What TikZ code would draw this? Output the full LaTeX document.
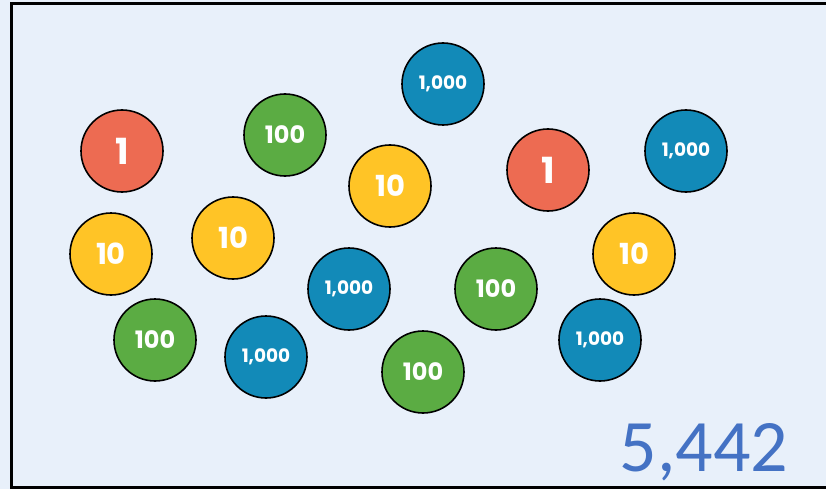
\documentclass[tikz,border=0pt]{standalone}
\usepackage{fontspec}
\setmainfont{Carlito}
\newfontfamily\coinfont{Poppins}[UprightFont=* Bold]
\usepackage{tikz}
\usetikzlibrary{positioning}
\definecolor{PaperBlue}{RGB}{232,240,250}
\definecolor{CoinRed}{RGB}{237,107,82}
\definecolor{CoinGreen}{RGB}{91,172,67}
\definecolor{CoinYellow}{RGB}{255,196,38}
\definecolor{CoinBlue}{RGB}{18,138,184}
\definecolor{TotalBlue}{RGB}{68,114,196}
\tikzset{
  coin/.style={circle,draw=black,line width=1.6pt,minimum size=82pt,inner sep=0pt,text=white},
  one/.style={coin,fill=CoinRed,font=\coinfont\fontsize{36}{36}\selectfont},
  ten/.style={coin,fill=CoinYellow,font=\coinfont\fontsize{29}{29}\selectfont},
  hundred/.style={coin,fill=CoinGreen,font=\coinfont\fontsize{24}{24}\selectfont},
  thousand/.style={coin,fill=CoinBlue,font=\coinfont\fontsize{18.5}{18.5}\selectfont}
}

\begin{document}
\begin{tikzpicture}[x=1pt,y=-1pt]
    \useasboundingbox (0,0) rectangle (826,489);
    \fill[PaperBlue] (0,0) rectangle (826,489);
    \begin{scope}
      \clip (0,0) rectangle (826,489);
      \draw[black,line width=3pt] (11.5,3.5) rectangle (840,487.5);
    \end{scope}
    % ones
    \node[one] (oneA) at (122,151) {1};
    \node[one] (oneB) at (548,170) {1};
    % tens
    \node[ten] (tenA) at (390,186) {10};
    \node[ten] (tenB) at (111,254) {10};
    \node[ten] (tenC) at (233,238) {10};
    \node[ten] (tenD) at (634,254) {10};
    % hundreds
    \node[hundred] (hunA) at (285,135) {100};
    \node[hundred] (hunB) at (496,289) {100};
    \node[hundred] (hunC) at (155,340) {100};
    \node[hundred] (hunD) at (423,372) {100};
    % thousands
    \node[thousand] (thoA) at (443,84) {1,000};
    \node[thousand] (thoB) at (686,151) {1,000};
    \node[thousand] (thoC) at (349,289) {1,000};
    \node[thousand] (thoD) at (266,357) {1,000};
    \node[thousand] (thoE) at (600,340) {1,000};
    % total
    \node[text=TotalBlue,font=\fontsize{74}{74}\selectfont,anchor=base] (total) at (704,471) {5,442};
  \end{tikzpicture}
\end{document}
